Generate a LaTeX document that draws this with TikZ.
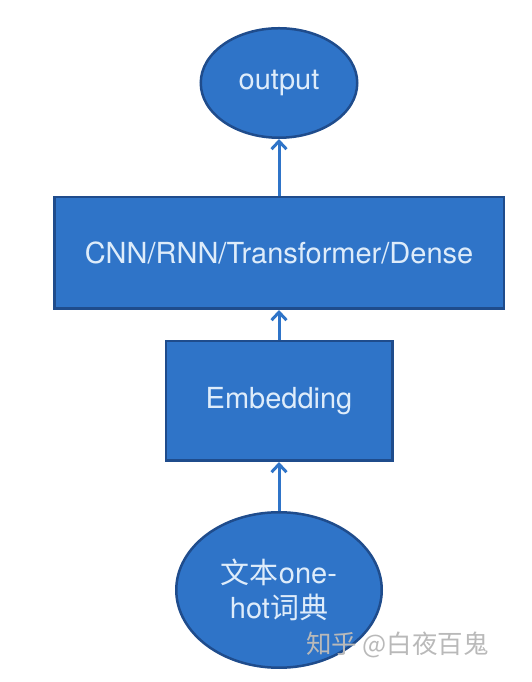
\documentclass[tikz,border=0pt]{standalone}
\usepackage{fontspec}
\setmainfont{TeX Gyre Heros}
\newfontfamily\cjk{Noto Sans CJK SC}
\usepackage[dvipsnames]{xcolor}
\usetikzlibrary{positioning,shapes.geometric,arrows.meta}
\definecolor{boxblue}{RGB}{47,116,200}
\definecolor{edgeblue}{RGB}{31,76,140}
\definecolor{textblue}{RGB}{222,236,250}

\begin{document}
\begin{tikzpicture}[->,>={Straight Barb[length=8pt,width=15pt]},line width=3pt,every node/.style={font=\fontsize{29}{35}\selectfont},main node/.style={fill=boxblue,draw=edgeblue,line width=2.5pt,text=textblue,inner sep=0pt,align=center},oval node/.style={main node,ellipse},box node/.style={main node,rectangle}]
            \useasboundingbox (0,0) rectangle (532pt,682pt);
            \node[oval node,minimum width=205.5pt,minimum height=155.5pt] (1) at (279pt,92pt) {{\cjk 文本}one-\\hot{\cjk 词典}};
            \node[box node,minimum width=226.5pt,minimum height=119.5pt] (2) [above=49pt of 1] {Embedding};
            \node[box node,minimum width=449.5pt,minimum height=111.5pt] (3) [above=30pt of 2] {CNN/RNN/Transformer/Dense};
            \node[oval node,minimum width=156.5pt,minimum height=109.5pt] (4) [above=57pt of 3] {output};
            \node[text=gray!55,font=\cjk\fontsize{25.5}{25.5}\selectfont] (w) at (397.5pt,37pt) {知乎 @白夜百鬼};

            \path[color=boxblue]
                (1) edge (2)
                (2) edge (3)
                (3) edge (4)
                ;
        \end{tikzpicture}
\end{document}
